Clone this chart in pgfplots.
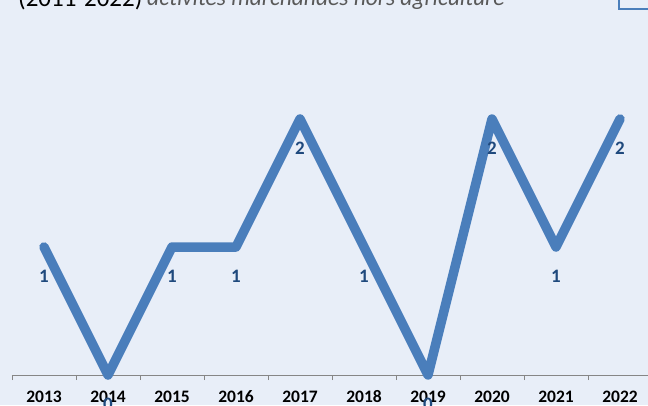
\documentclass[border=0pt]{standalone}
\usepackage{fontspec}
\setmainfont{Carlito}
\usepackage{pgfplots}
\pgfplotsset{compat=1.18}
\definecolor{bg}{RGB}{232,238,248}
\definecolor{ln}{RGB}{74,126,187}
\definecolor{lbl}{RGB}{31,73,125}
\definecolor{axgray}{RGB}{134,134,134}
\definecolor{titlegray}{RGB}{89,89,89}
\begin{document}
\begin{tikzpicture}[x=1pt,y=1pt]
\useasboundingbox (0,0) rectangle (648,405);
\clip (0,0) rectangle (648,405);
\fill[bg] (0,0) rectangle (648,405);
\node[anchor=base west, font=\fontsize{25}{25}\selectfont, inner sep=0pt] at (18,398) {(2011-2022)};
\node[anchor=base west, font=\fontsize{23.5}{23.5}\selectfont\itshape, text=titlegray, inner sep=0pt] at (147,399.5) {activités marchandes hors agriculture};
\draw[ln, line width=1.5pt] (619,396) rectangle (660,420);
\begin{axis}[
  at={(12pt,30pt)}, anchor=south west,
  scale only axis, width=640pt, height=320pt,
  xmin=-0.5, xmax=9.5, ymin=0, ymax=2.5,
  clip=false,
  axis y line=none,
  axis x line*=bottom,
  x axis line style={axgray, line width=0.8pt},
  tick align=outside,
  major tick length=0pt,
  minor tick length=5pt,
  tick style={axgray, line width=0.8pt},
  xtick={0,1,2,3,4,5,6,7,8,9},
  xticklabels={2013,2014,2015,2016,2017,2018,2019,2020,2021,2022},
  minor xtick={-0.5,0.5,1.5,2.5,3.5,4.5,5.5,6.5,7.5,8.5,9.5},
  xticklabel style={font=\fontsize{17.5}{17.5}\selectfont\bfseries, text=black, yshift=-12pt},
  /pgf/number format/assume math mode=true,
  nodes near coords,
  every node near coord/.append style={font=\fontsize{19}{19}\selectfont\bfseries, text=lbl, anchor=center, yshift=-29pt},
]
\addplot[ln, line width=9.5pt, line join=round, line cap=round] coordinates {
  (0,1) (1,0) (2,1) (3,1) (4,2) (5,1) (6,0) (7,2) (8,1) (9,2)
};
\end{axis}
\end{tikzpicture}
\end{document}
